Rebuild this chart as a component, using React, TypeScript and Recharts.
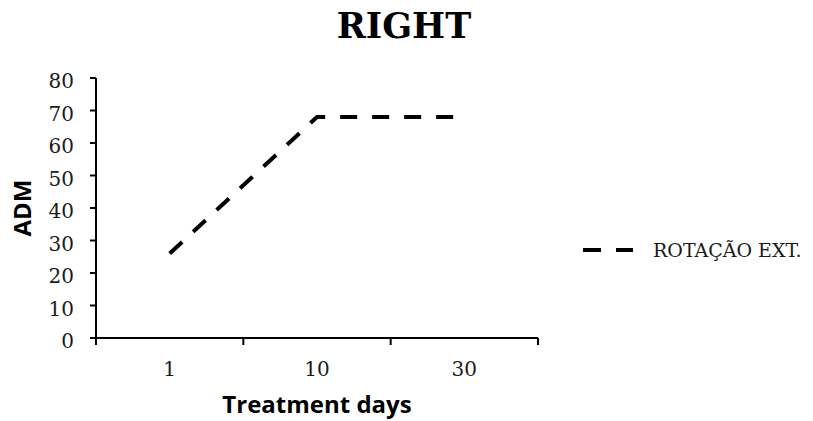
import { LineChart, Line, XAxis, YAxis, Legend } from 'recharts';

// treatment days shown on the category axis
const categories = ['1', '10', '30'];
// ADM readings for "ROTAÇÃO EXT."
const admValues = [26, 68, 68];
const yTicks = [0, 10, 20, 30, 40, 50, 60, 70, 80];
const seriesName = 'ROTAÇÃO EXT.';

// x runs 0..3; each category sits in the middle of its slot
const data = categories.map((day, i) => ({ pos: i + 0.5, day, adm: admValues[i] }));
const xTicks = [0, 0.5, 1, 1.5, 2, 2.5, 3];

const serif = '"DejaVu Serif", serif';
const sans = '"Open Sans", sans-serif';

// boundary ticks get a tick mark, mid-slot ticks get the day label
const XTick = (props: any) => {
  const { x, y, payload } = props;
  const v = payload.value as number;
  if (Number.isInteger(v)) {
    return <line x1={x} x2={x} y1={y} y2={y + 7} stroke="#000" strokeWidth={2} />;
  }
  return (
    <text x={x} y={y + 24} dy="0.71em" textAnchor="middle" fill="#1a1a1a" fontSize={20} fontFamily={serif}>
      {categories[Math.floor(v)]}
    </text>
  );
};

const LegendContent = () => (
  <svg width={230} height={24}>
    <line x1={0} x2={50} y1={12} y2={12} stroke="#000" strokeWidth={4} strokeDasharray="18 15" />
    <text x={70} y={12} dy="0.355em" fill="#1a1a1a" fontSize={19} fontFamily={serif}>
      {seriesName}
    </text>
  </svg>
);

const App = () => {
  return (
    <div style={{ position: 'absolute', left: 0, top: 0, width: 813, height: 421, background: '#fff' }}>
      <div
        style={{
          position: 'absolute',
          left: 0,
          top: 9,
          width: 808,
          textAlign: 'center',
          fontFamily: serif,
          fontWeight: 'bold',
          fontSize: 35,
          lineHeight: '34px',
          color: '#000',
        }}
      >
        RIGHT
      </div>
      <LineChart width={813} height={421} data={data} margin={{ top: 78, right: 275, bottom: 0, left: 0 }}>
        <XAxis
          dataKey="pos"
          type="number"
          domain={[0, 3]}
          ticks={xTicks}
          interval={0}
          tick={<XTick />}
          tickLine={false}
          tickSize={0}
          tickMargin={0}
          axisLine={{ stroke: '#000', strokeWidth: 2 }}
          height={83}
          label={{
            value: 'Treatment days',
            position: 'insideBottom',
            offset: 8,
            style: { fontFamily: sans, fontWeight: 'bold', fontSize: 24, fill: '#000' },
          }}
        />
        <YAxis
          domain={[0, 80]}
          ticks={yTicks}
          interval={0}
          width={96}
          tickSize={6}
          tickMargin={16}
          axisLine={{ stroke: '#000', strokeWidth: 2 }}
          tickLine={{ stroke: '#000', strokeWidth: 2 }}
          tick={{ fill: '#1a1a1a', fontSize: 20, fontFamily: serif, dy: 3 }}
          label={{
            value: 'ADM',
            angle: -90,
            position: 'insideLeft',
            offset: 22,
            style: { textAnchor: 'middle', fontFamily: sans, fontWeight: 'bold', fontSize: 24, fill: '#000' },
          }}
        />
        <Legend
          layout="vertical"
          align="center"
          verticalAlign="middle"
          content={<LegendContent />}
          wrapperStyle={{ left: 583, top: 238, width: 230 }}
        />
        <Line
          type="linear"
          dataKey="adm"
          name={seriesName}
          stroke="#000"
          strokeWidth={4}
          strokeDasharray="17 15"
          dot={false}
          activeDot={false}
          isAnimationActive={false}
        />
      </LineChart>
    </div>
  );
};

export default App;
